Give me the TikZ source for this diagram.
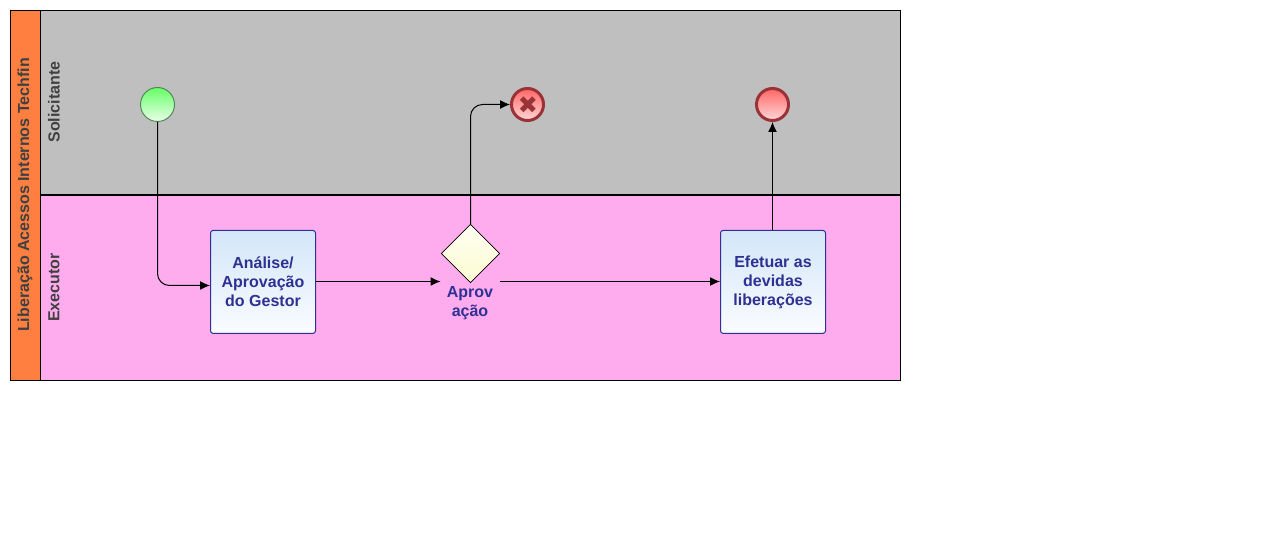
\documentclass[tikz,border=0pt]{standalone}
\usepackage{fontspec}
\setmainfont{Liberation Sans}
\usetikzlibrary{arrows.meta,shapes.geometric}
\definecolor{orangeh}{HTML}{FF7F40}
\definecolor{greylane}{HTML}{BFBFBF}
\definecolor{pinklane}{HTML}{FFACEF}
\definecolor{tasktxt}{HTML}{2E3192}
\definecolor{lanetxt}{HTML}{404040}
\definecolor{redline}{HTML}{9A3238}
\definecolor{tasktop}{HTML}{D3E6F8}
\definecolor{taskbot}{HTML}{FAFCFF}
\definecolor{gwtopc}{HTML}{FFFFF2}
\definecolor{gwbotc}{HTML}{FBFBD2}
\definecolor{startline}{HTML}{4F8A55}
\definecolor{starttop}{HTML}{66FF66}
\definecolor{startbot}{HTML}{EAFFEA}
\definecolor{endtop}{HTML}{FF6666}
\definecolor{endbot}{HTML}{FFD8D8}
\tikzset{
  x=0.75pt,y=-0.75pt,
  lane/.style={draw=black,line width=0.75pt},
  lanelabel/.style={rotate=90,font=\fontsize{12}{14}\selectfont\bfseries,text=lanetxt,inner sep=0pt},
  taskbox/.style={draw=tasktxt,line width=0.75pt,rounded corners=2pt,minimum width=78.75pt,minimum height=77.25pt,top color=tasktop,bottom color=taskbot,inner sep=0pt,align=center,text=tasktxt,font=\fontsize{12}{14.25}\selectfont\bfseries},
  flow/.style={draw=black,line width=0.75pt,-{Latex[length=7.5pt,width=6.75pt]}},
  startev/.style={circle,draw=startline,line width=0.75pt,minimum size=25.5pt,inner sep=0pt,top color=starttop,bottom color=startbot},
  endev/.style={circle,draw=redline,line width=2.25pt,minimum size=24pt,inner sep=0pt,top color=endtop,bottom color=endbot},
  gateway/.style={diamond,draw=black,line width=0.6pt,minimum width=44pt,minimum height=44pt,inner sep=0pt,top color=gwtopc,bottom color=gwbotc},
}
\begin{document}
\begin{tikzpicture}
\useasboundingbox (0,0) rectangle (1279,549);
\fill[white] (0,0) rectangle (1279,549);
\fill[greylane] (40.5,10.5) rectangle (900.5,195);
\fill[pinklane] (40.5,195) rectangle (900.5,380.5);
\fill[orangeh] (10.5,10.5) rectangle (40.5,380.5);
\draw[lane] (10.5,10.5) rectangle (900.5,380.5);
\draw[lane] (40.5,10.5) -- (40.5,380.5);
\draw[black,line width=1.5pt] (40.5,195) -- (900.5,195);
\node[lanelabel] (pool) at (25,195) {Liberação Acessos Internos Techfin};
\node[lanelabel] (l1) at (54,102) {Solicitante};
\node[lanelabel] (l2) at (54,287.5) {Executor};
\node[startev] (start) at (157.5,104.5) {};
\node[taskbox] (t1) at (263,281.9) {Análise/\\Aprovação\\do Gestor};
\node[taskbox] (t2) at (773,281.9) {Efetuar as\\devidas\\liberações};
\node[gateway] (gw) at (470.5,253.5) {};
\node[inner sep=0pt,align=center,text=tasktxt,font=\fontsize{12}{14.25}\selectfont\bfseries] (gwl) at (470,303) {Aprov\\ação};
\node[endev] (e1) at (527.5,104.5) {};
\node[text=redline,inner sep=0pt,font=\fontsize{18}{18}\selectfont] (x) at (528,105) {\fontspec{DejaVu Sans}✖};
\node[endev] (e2) at (772.5,104.5) {};
\coordinate (gwin) at (440.5,281.5);
\coordinate (gwout) at (500,281.5);
\coordinate (t1in) at (t1.west |- 0,285.5);
\coordinate (t1out) at (t1.east |- gwin);
\coordinate (t2in) at (t2.west |- gwout);
\coordinate (t2top) at (e2.south |- t2.north);
\coordinate (gwtop) at (470.5,224);
\draw[flow,rounded corners=9pt] (start.south) |- (t1in);
\draw[flow] (t1out) -- (gwin);
\draw[flow] (gwout) -- (t2in);
\draw[flow,rounded corners=9pt] (gwtop) |- (e1.west);
\draw[flow] (t2top) -- (e2.south);
\end{tikzpicture}
\end{document}
